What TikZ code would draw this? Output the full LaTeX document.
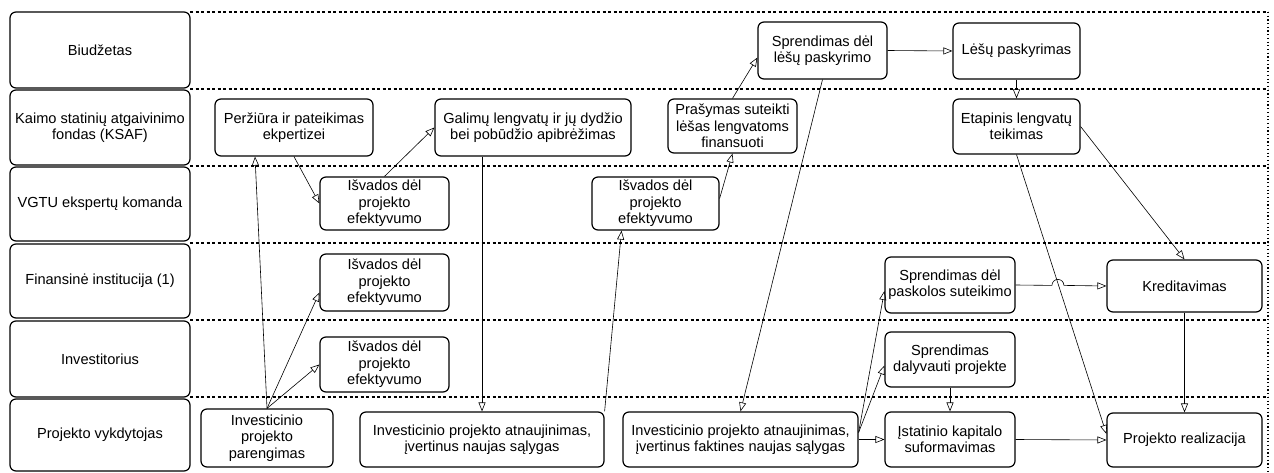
\documentclass[tikz,border=0pt]{standalone}
\usepackage{fontspec}
\setmainfont{Liberation Sans}
\usepackage{tikz}
\usetikzlibrary{
    positioning,
    arrows.meta,
    calc
}
\newcommand{\boxfont}{\fontsize{14.6}{16.4}\selectfont}

\begin{document}
\begin{tikzpicture}[x=1pt, y=-1pt, >={Triangle[open, length=9pt, width=7pt]},
    lane/.style={draw, fill=white, rounded corners=6pt, line width=1.2pt, minimum width=180pt, align=center, inner sep=1pt, font=\boxfont},
    box/.style={draw, fill=white, rounded corners=6pt, line width=1.2pt, align=center, inner sep=1pt, font=\boxfont},
    flow/.style={->, line width=0.6pt},
    sep/.style={line width=1.1pt, dash pattern=on 3pt off 2.5pt}]
        \useasboundingbox (0,0) rectangle (1274,473);

        % Swimlane borders
        \foreach \y in {12, 89, 166, 243, 320, 397}
            \draw[sep] (190,\y) -- (1268,\y);
        \draw[line width=1.1pt, dash pattern=on 1.2pt off 2.5pt] (1268,12) -- (1268,473);

        % Lanes
        \node[lane, minimum height=76pt] (budget) at (100,50) {Biudžetas};
        \node[lane, minimum height=75pt] (ksaf) at (100,127.5) {Kaimo statinių atgaivinimo\\fondas (KSAF)};
        \node[lane, minimum height=74pt] (vgtu) at (100,204) {VGTU ekspertų komanda};
        \node[lane, minimum height=74pt] (bank) at (100,281) {Finansinė institucija (1)};
        \node[lane, minimum height=76pt] (investor) at (100,359) {Investitorius};
        \node[lane, minimum height=72pt] (executor) at (100,435) {Projekto vykdytojas};

        % Biudzetas
        \node[box, minimum width=129pt, minimum height=57pt] (decide) at (822.5,50.5) {Sprendimas dėl\\lėšų paskyrimo};
        \node[box, minimum width=127pt, minimum height=56pt] (allot) at (1016.5,51) {Lėšų paskyrimas};

        % KSAF
        \node[box, minimum width=158pt, minimum height=57pt] (review) at (294,127.5) {Peržiūra ir pateikimas\\ekpertizei};
        \node[box, minimum width=196pt, minimum height=57pt] (relief) at (533,127.5) {Galimų lengvatų ir jų dydžio\\bei pobūdžio apibrėžimas};
        \node[box, minimum width=129pt, minimum height=54pt] (request) at (732.5,126) {Prašymas suteikti\\lėšas lengvatoms\\finansuoti};
        \node[box, minimum width=127pt, minimum height=55pt] (stages) at (1016.5,126.5) {Etapinis lengvatų\\teikimas};

        % VGTU
        \node[box, minimum width=129pt, minimum height=53pt] (exp1) at (384.5,203.5) {Išvados dėl\\projekto\\efektyvumo};
        \node[box, minimum width=127pt, minimum height=53pt] (exp2) at (655.5,203.5) {Išvados dėl\\projekto\\efektyvumo};

        % Finansine institucija
        \node[box, minimum width=129pt, minimum height=57pt] (bankexp) at (384.5,282.5) {Išvados dėl\\projekto\\efektyvumo};
        \node[box, minimum width=130pt, minimum height=56pt] (loan) at (950,285) {Sprendimas dėl\\paskolos suteikimo};
        \node[box, minimum width=155pt, minimum height=52pt] (credit) at (1184.5,286) {Kreditavimas};

        % Investitorius
        \node[box, minimum width=129pt, minimum height=55pt] (invexp) at (384.5,364.5) {Išvados dėl\\projekto\\efektyvumo};
        \node[box, minimum width=130pt, minimum height=55pt] (join) at (950,359.5) {Sprendimas\\dalyvauti projekte};

        % Projekto vykdytojas
        \node[box, minimum width=132pt, minimum height=58pt] (prep) at (267,438) {Investicinio\\projekto\\parengimas};
        \node[box, minimum width=244pt, minimum height=55pt] (update) at (482,439.5) {Investicinio projekto atnaujinimas,\\įvertinus naujas sąlygas};
        \node[box, minimum width=235pt, minimum height=55pt] (actual) at (740.5,439.5) {Investicinio projekto atnaujinimas,\\įvertinus faktines naujas sąlygas};
        \node[box, minimum width=130pt, minimum height=55pt] (capital) at (950,439.5) {Įstatinio kapitalo\\suformavimas};
        \node[box, minimum width=155pt, minimum height=54pt] (realize) at (1184.5,440) {Projekto realizacija};

        % Flows
        \draw[flow] (prep.north) -- ([xshift=-39pt]review.south);
        \draw[flow] (prep.north) -- ([yshift=-10pt]bankexp.west);
        \draw[flow] (prep.north) -- (invexp.west);
        \draw[flow] (review.south) -- (exp1.west);
        \draw[flow] (exp1.north) -- (relief.west);
        \draw[flow] (relief.south -| update.north) -- (update.north);
        \draw[flow] (update.north east) -- ([xshift=-34pt]exp2.south);
        \draw[flow] ([yshift=5pt]exp2.east) -- (request.south);
        \draw[flow] (request.north) -- ([yshift=-7pt]decide.west);
        \draw[flow] (decide.south) -- (actual.north);
        \draw[flow] (decide.east) -- (allot.west);
        \draw[flow] (allot.south) -- (stages.north);
        \draw[flow] (stages.south) -- ([yshift=6pt]realize.west);
        \draw[flow] (stages.east) -- (credit.north);
        \draw[flow] ([yshift=7pt]actual.east) -- ([yshift=-6pt]loan.west);
        \draw[flow] ([yshift=7pt]actual.east) -- ([yshift=-6pt]join.west);
        \draw[flow] (actual.east) -- (capital.west);
        \draw[flow] (loan.east) -- ($(loan.east)!0.4!(credit.west)$) arc[start angle=180, end angle=0, radius=6pt] -- (credit.west);
        \draw[flow] (join.south) -- (capital.north);
        \draw[flow] (capital.east) -- (realize.west);
        \draw[flow] (credit.south) -- (realize.north);
\end{tikzpicture}
\end{document}
